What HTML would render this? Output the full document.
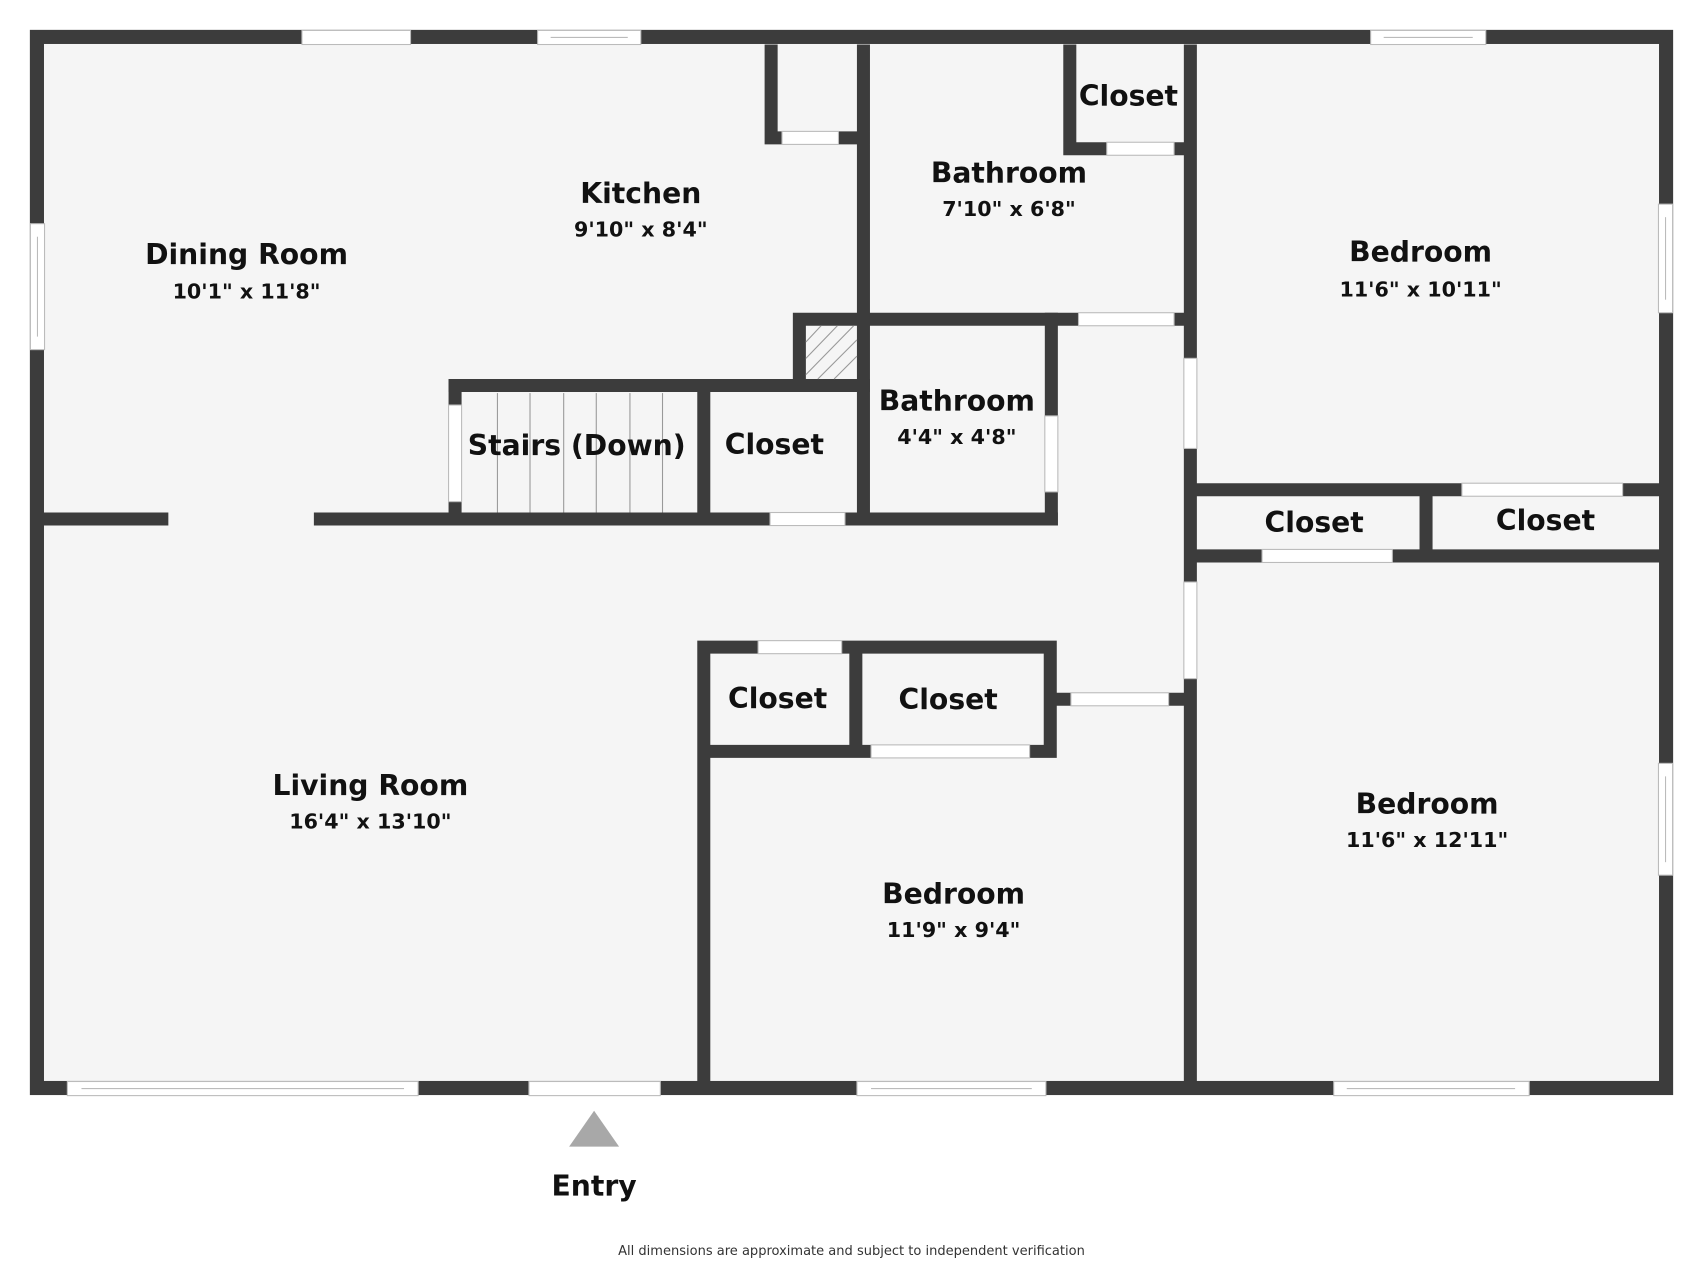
<!DOCTYPE html>
<html><head><meta charset="utf-8"><style>
html,body{margin:0;padding:0;background:#fff}
svg{display:block}
.t{font-family:"DejaVu Sans","Liberation Sans",sans-serif;font-weight:bold;fill:#111;text-anchor:middle}
.n{font-size:26px}
.d{font-size:19px}
</style></head><body>
<svg width="1703" height="1265" viewBox="0 0 1568 1165" preserveAspectRatio="none" xmlns="http://www.w3.org/2000/svg">
<rect x="34" y="34" width="1500" height="968" fill="#f5f5f5" stroke="#3c3c3c" stroke-width="13"/>
<g fill="#fff" stroke="#bbb" stroke-width="1">
<rect x="278" y="28" width="100" height="13"/>
<rect x="495" y="28" width="95" height="13"/><line x1="507" y1="34.5" x2="578" y2="34.5"/>
<rect x="1262" y="28" width="106" height="13"/><line x1="1274" y1="34.5" x2="1356" y2="34.5"/>
<rect x="28" y="206" width="13" height="116"/><line x1="34.5" y1="218" x2="34.5" y2="310"/>
<rect x="1527" y="188" width="13" height="100"/><line x1="1533.5" y1="200" x2="1533.5" y2="276"/>
<rect x="1527" y="703" width="13" height="103"/><line x1="1533.5" y1="715" x2="1533.5" y2="794"/>
<rect x="62" y="996" width="323" height="13"/><line x1="75" y1="1002.5" x2="372" y2="1002.5"/>
<rect x="487" y="996" width="121" height="13"/>
<rect x="789" y="996" width="174" height="13"/><line x1="802" y1="1002.5" x2="950" y2="1002.5"/>
<rect x="1228" y="996" width="180" height="13"/><line x1="1240" y1="1002.5" x2="1395" y2="1002.5"/>
</g>
<g stroke="#3c3c3c" stroke-width="12" fill="none">
<path d="M710 41V133M704 127H795M795 41V300"/>
<path d="M985 41V143M979 137H1096"/>
<path d="M1096 41V1002"/>
<path d="M730 294H1096M736 288V361M413 355H801"/>
<path d="M419 349V484M648 349V484M795 288V484M968 288V484"/>
<path d="M28 478H155M289 478H974"/>
<path d="M1096 451H1533M1313 445V518M1096 512H1533"/>
<path d="M642 596H973M648 590V1002M788 590V698M967 590V698M967 644H1096M642 692H973"/>
</g>
<g fill="#fff" stroke="#bbb" stroke-width="1">
<rect x="720" y="121" width="52" height="12"/>
<rect x="1019" y="131" width="62" height="12"/>
<rect x="1090" y="330" width="12" height="83"/>
<rect x="1090" y="536" width="12" height="89"/>
<rect x="993" y="288" width="88" height="12"/>
<rect x="413" y="373" width="12" height="89"/>
<rect x="962" y="383" width="12" height="70"/>
<rect x="709" y="472" width="69" height="12"/>
<rect x="1346" y="445" width="148" height="12"/>
<rect x="1162" y="506" width="120" height="12"/>
<rect x="698" y="590" width="77" height="12"/>
<rect x="986" y="638" width="90" height="12"/>
<rect x="802" y="686" width="146" height="12"/>
</g>
<g stroke="#999" stroke-width="1">
<line x1="458" y1="362" x2="458" y2="472"/><line x1="488" y1="362" x2="488" y2="472"/>
<line x1="519" y1="362" x2="519" y2="472"/><line x1="549" y1="362" x2="549" y2="472"/>
<line x1="580" y1="362" x2="580" y2="472"/><line x1="610" y1="362" x2="610" y2="472"/>
<line x1="742" y1="315" x2="756" y2="300"/><line x1="742" y1="330" x2="771" y2="300"/>
<line x1="742" y1="345" x2="786" y2="300"/><line x1="753" y1="349" x2="789" y2="313"/>
<line x1="768" y1="349" x2="789" y2="328"/>
</g>
<g class="t">
<text class="n" x="227" y="243">Dining Room</text><text class="d" x="227" y="275">10'1" x 11'8"</text>
<text class="n" x="590" y="187">Kitchen</text><text class="d" x="590" y="218">9'10" x 8'4"</text>
<text class="n" x="929" y="168">Bathroom</text><text class="d" x="929" y="199">7'10" x 6'8"</text>
<text class="n" x="1039" y="97">Closet</text>
<text class="n" x="1308" y="241">Bedroom</text><text class="d" x="1308" y="273">11'6" x 10'11"</text>
<text class="n" x="531" y="419">Stairs (Down)</text>
<text class="n" x="713" y="418">Closet</text>
<text class="n" x="881" y="378">Bathroom</text><text class="d" x="881" y="409">4'4" x 4'8"</text>
<text class="n" x="1210" y="490">Closet</text>
<text class="n" x="1423" y="488">Closet</text>
<text class="n" x="716" y="652">Closet</text>
<text class="n" x="873" y="653">Closet</text>
<text class="n" x="341" y="732">Living Room</text><text class="d" x="341" y="763">16'4" x 13'10"</text>
<text class="n" x="1314" y="749">Bedroom</text><text class="d" x="1314" y="780">11'6" x 12'11"</text>
<text class="n" x="878" y="832">Bedroom</text><text class="d" x="878" y="863">11'9" x 9'4"</text>
<text class="n" x="547" y="1101">Entry</text>
<text x="784" y="1156" style="font-size:12px;font-weight:normal;fill:#333">All dimensions are approximate and subject to independent verification</text>
</g>
<polygon points="547,1023 570,1056 524,1056" fill="#a8a8a8"/>
</svg>
</body></html>
